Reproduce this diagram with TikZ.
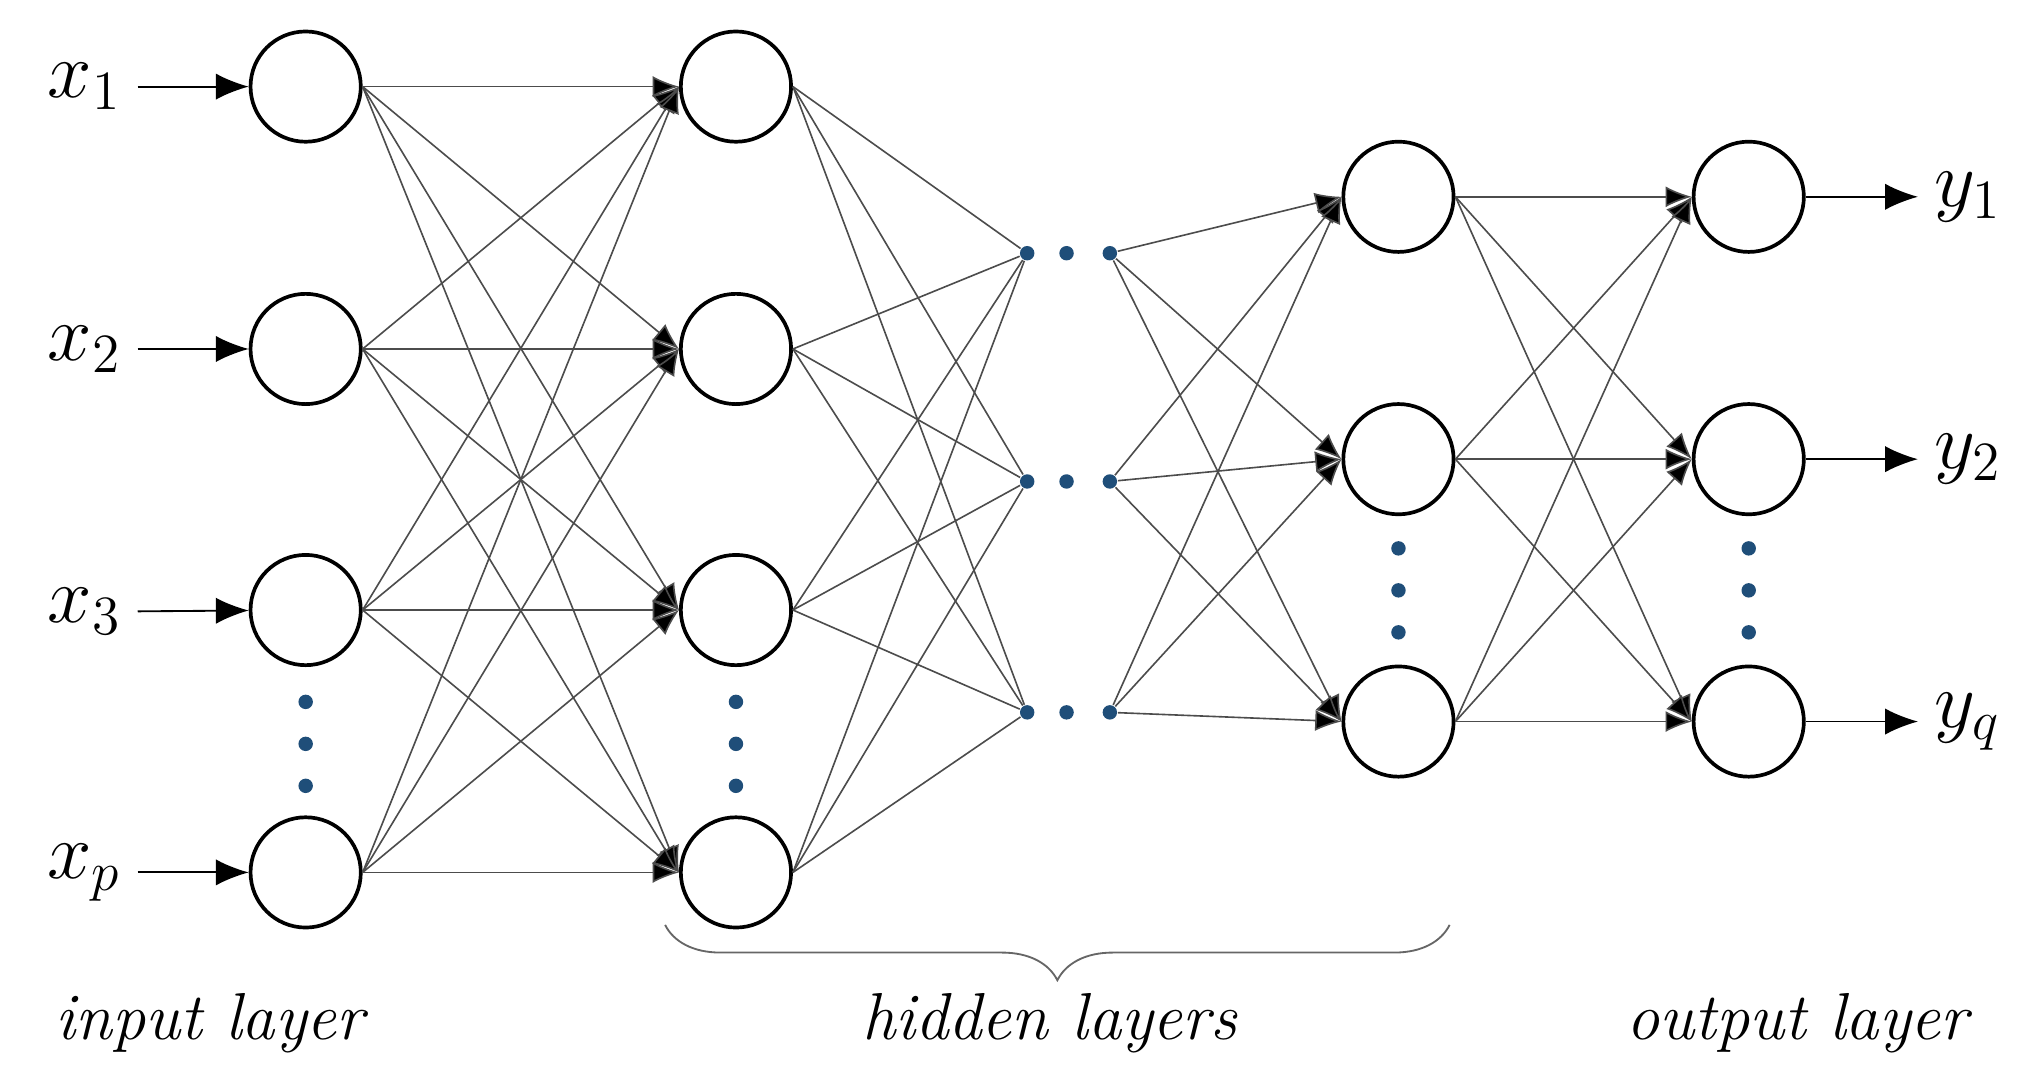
\documentclass[tikz,border=0pt]{standalone}
\usepackage{tikz}
\usetikzlibrary{arrows.meta,decorations.pathreplacing}
\definecolor{dotblue}{HTML}{1F4E79}
\tikzset{%
  >={Latex[width=2mm,length=2.5mm]},
  % styles for neurons, dots and links
  neuron/.style = {circle, draw=black, thick, fill=white, minimum size=0.84cm, inner sep=0pt},
  gap/.style = {circle, fill=dotblue, minimum size=0.11cm, inner sep=0pt},
  link/.style = {draw=black!70, line width=0.35pt, -{Latex[width=1.6mm,length=2mm,fill=black]}},
  layerText/.style = {font=\Large\itshape},
}
\begin{document}
\begin{tikzpicture}[x=0.01cm, y=-0.01cm]
  \useasboundingbox (0,0) rectangle (1552,823);
  % neurons of each layer
  \foreach \i/\y in {1/66, 2/266, 3/465, 4/665} {
    \node (in\i)  [neuron] at (233,\y) {};
    \node (hA\i)  [neuron] at (561,\y) {};
  }
  \foreach \i/\y in {1/150, 2/350, 3/550} {
    \node (hB\i)  [neuron] at (1066,\y) {};
    \node (out\i) [neuron] at (1333,\y) {};
  }
  % hidden dots between the layers
  \foreach \i/\y in {1/193, 2/367, 3/543} {
    \node (dl\i) [gap] at (783,\y) {};
    \node (dm\i) [gap] at (813,\y) {};
    \node (dr\i) [gap] at (846,\y) {};
  }
  % vertical dots
  \foreach \x/\a in {233/535, 561/535, 1066/418, 1333/418} {
    \foreach \k in {0,1,2} \node [gap] at (\x,\a+\k*32) {};
  }
  % inputs and outputs
  \foreach \i/\t in {1/1, 2/2, 3/3, 4/p} {
    \node (xl\i) [anchor=east, font=\LARGE] at (105,{\i==4 ? 665 : (\i-1)*200+66}) {$x_{\t}$};
    \draw[->] (xl\i.east) -- (in\i);
  }
  \foreach \i/\t in {1/1, 2/2, 3/q} {
    \coordinate (yc\i) at (1462,{(\i-1)*200+150});
    \draw[->] (out\i) -- (yc\i);
    \node [anchor=west, font=\LARGE] at (yc\i) {$y_{\t}$};
  }
  % connections
  \foreach \i in {1,...,4} {
    \foreach \j in {1,...,4} \draw[link] (in\i.east) -- (hA\j.west);
    \foreach \j in {1,2,3} \draw[link, -] (hA\i.east) -- (dl\j);
  }
  \foreach \i in {1,2,3} {
    \foreach \j in {1,2,3} {
      \draw[link] (dr\i) -- (hB\j.west);
      \draw[link] (hB\i.east) -- (out\j.west);
    }
  }
  % brace and layer names
  \draw[black!60, decorate, decoration={brace, mirror, amplitude=12pt}]
      (507,705) -- (1105,705);
  \node [layerText] at (160,780) {input layer};
  \node [layerText] at (800,780) {hidden layers};
  \node [layerText] at (1370,780) {output layer};
\end{tikzpicture}
\end{document}
